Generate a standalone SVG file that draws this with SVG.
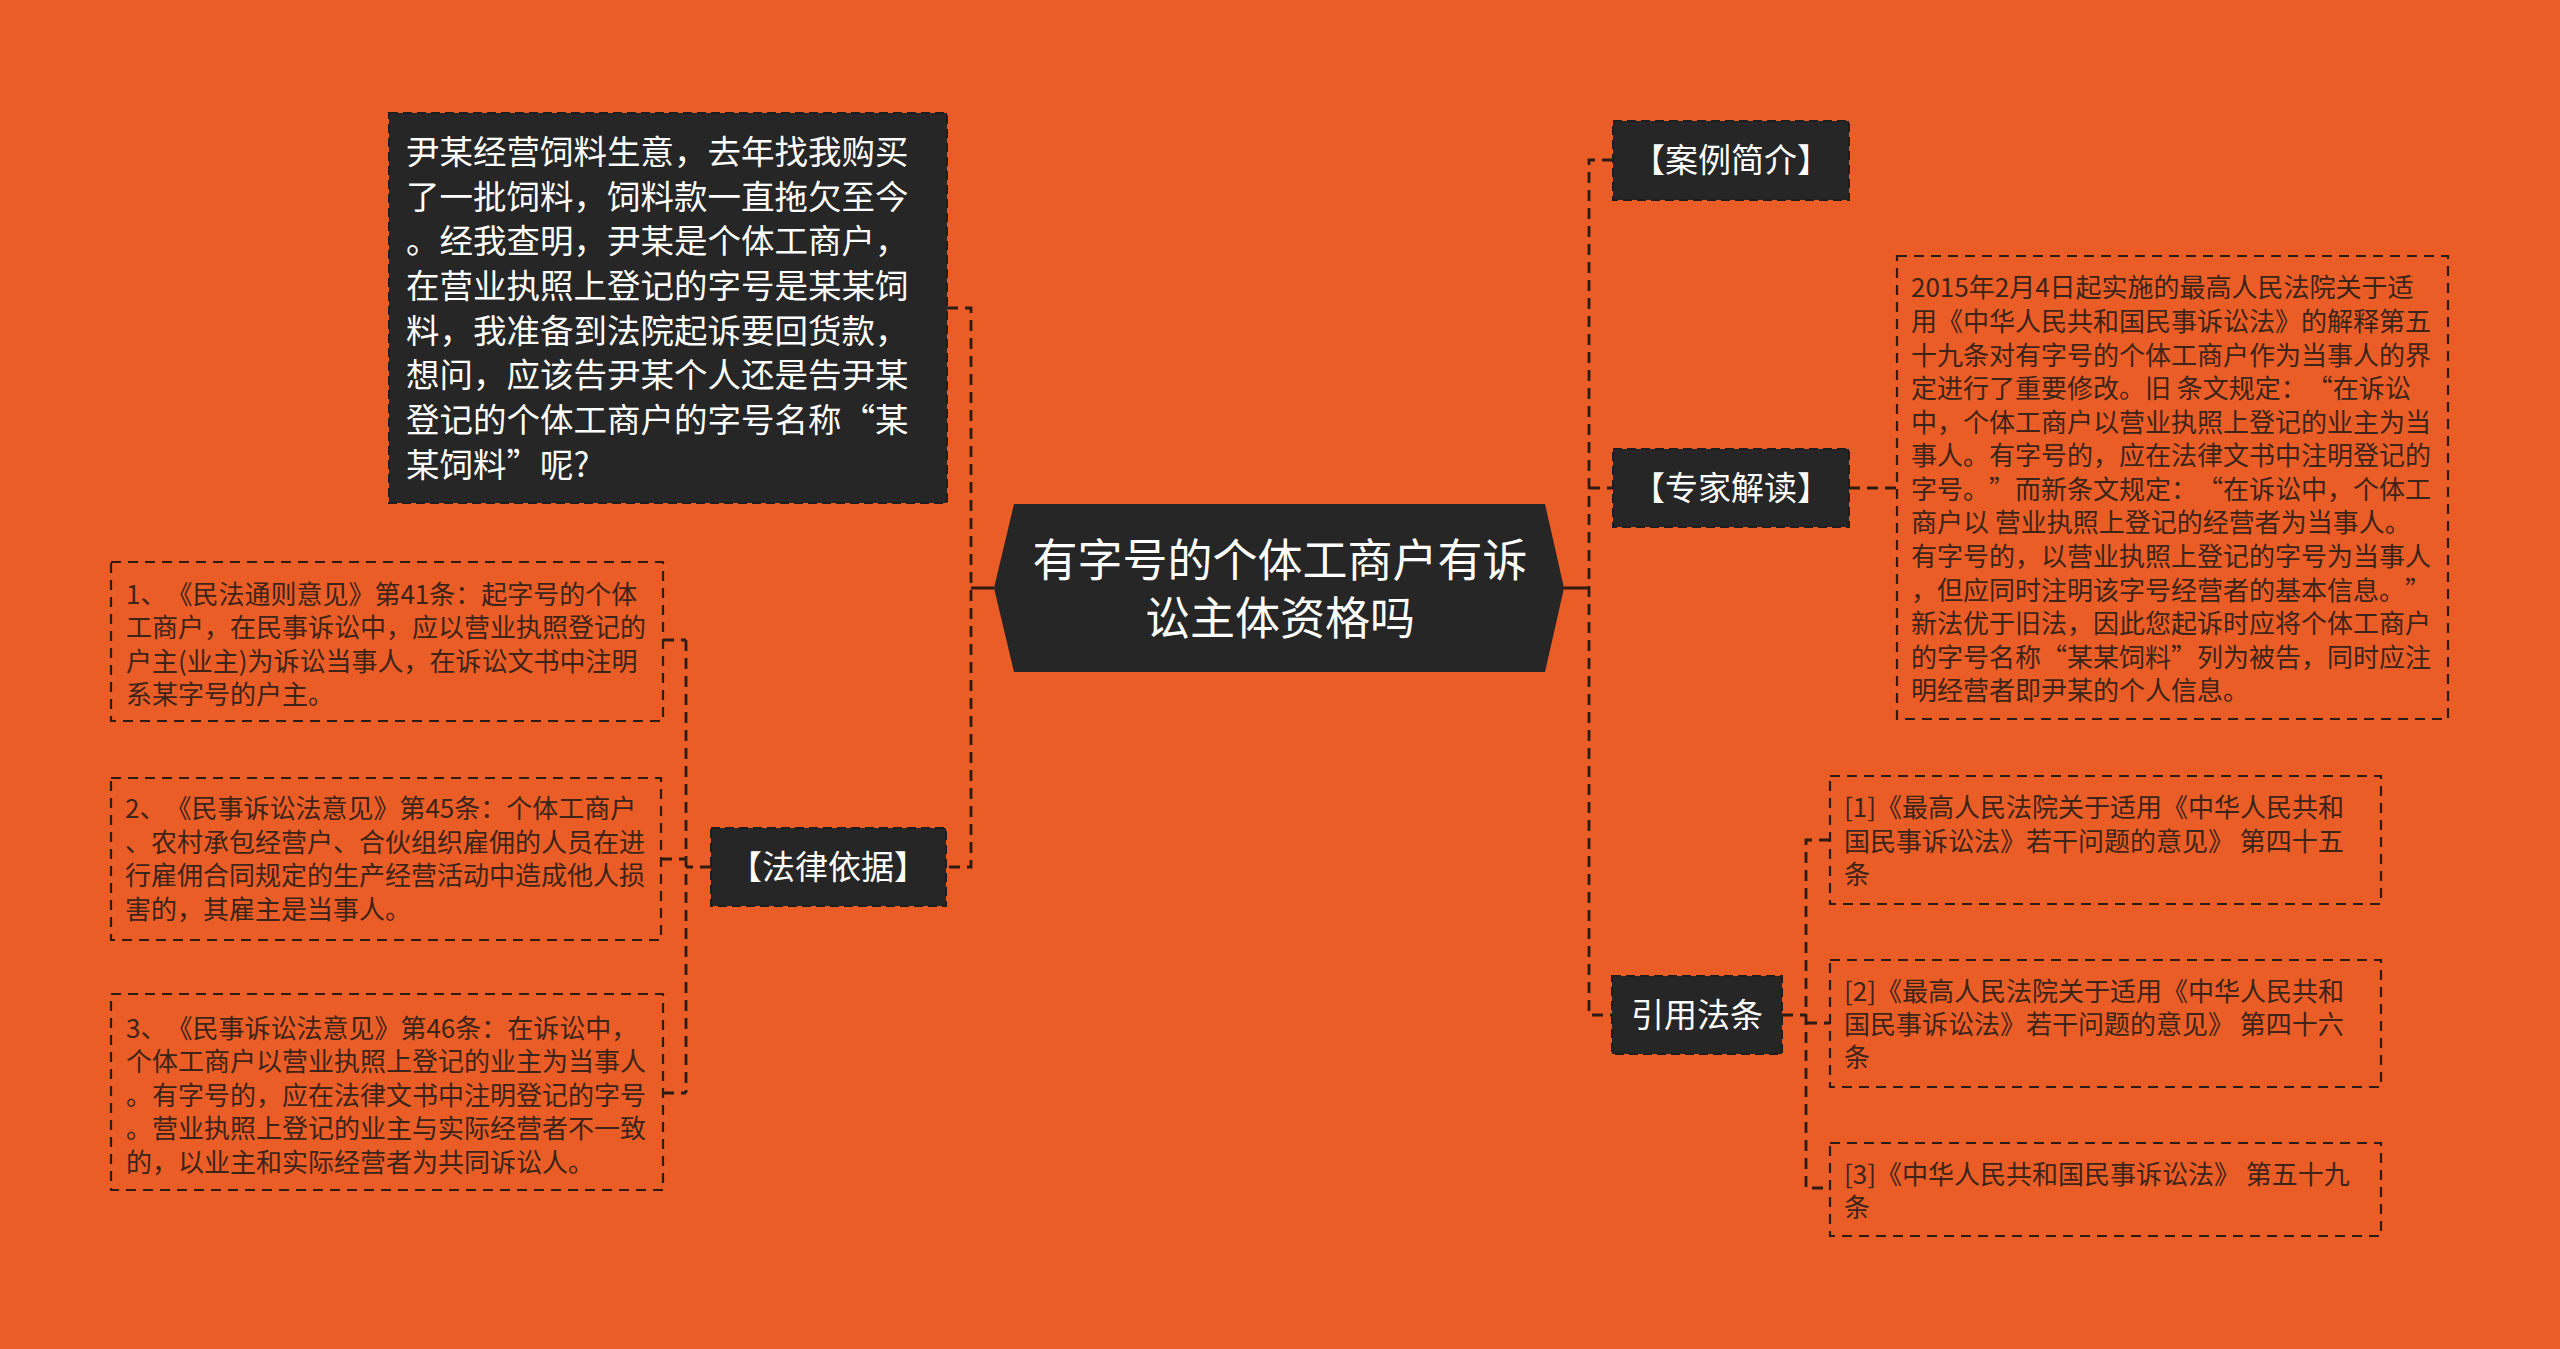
<svg xmlns="http://www.w3.org/2000/svg" width="2560" height="1349" viewBox="0 0 2560 1349">
<style>
.bg{fill:#EA5D27}
.dark{fill:#262626;stroke:#1e1e1e;stroke-width:2;stroke-dasharray:9 5}
.light{fill:none;stroke:#2e1b12;stroke-width:2.2;stroke-dasharray:10 7}
.conn{fill:none;stroke:#2e1b12;stroke-width:2.8;stroke-dasharray:11 7}
.solid{fill:none;stroke:#2e1b12;stroke-width:3}
text{font-family:"Noto Sans CJK SC","Noto Sans",sans-serif;text-spacing-trim:space-all;dominant-baseline:central}
.wt{fill:#ffffff}
.lt{fill:#3d2418;font-size:26px}
.lbl{fill:#ffffff;font-size:33px;text-anchor:middle}
</style>
<rect class="bg" x="0" y="0" width="2560" height="1349"/>
<g id="connectors">
<path class="solid" d="M994,588 H971"/>
<path class="conn" d="M947,308 H971 V867 H946"/>
<path class="conn" d="M711,867 H686"/>
<path class="conn" d="M686,640 V1093"/>
<path class="conn" d="M663,640 H686 M661,859 H686 M663,1093 H686"/>
<path class="solid" d="M1564,588 H1589"/>
<path class="conn" d="M1613,160 H1589 V1015 H1612"/>
<path class="conn" d="M1589,488 H1613"/>
<path class="conn" d="M1849,488 H1897"/>
<path class="conn" d="M1782,1015 H1806"/>
<path class="conn" d="M1830,840 H1806 V1188 H1830"/>
<path class="conn" d="M1806,1023 H1830"/>
</g>
<g id="root">
<polygon points="994,588 1014,504 1545,504 1564,588 1545,672 1014,672" fill="#262626"/>
<text class="wt" x="1280" y="557" font-size="45" text-anchor="middle">有字号的个体工商户有诉</text>
<text class="wt" x="1280" y="615" font-size="45" text-anchor="middle">讼主体资格吗</text>
</g>
<g id="case-question">
<rect class="dark" x="389" y="113" width="558" height="390"/>
<g class="wt" font-size="33.5">
<text x="406" y="149">尹某经营饲料生意，去年找我购买</text>
<text x="406" y="194">了一批饲料，饲料款一直拖欠至今</text>
<text x="406" y="238">。经我查明，尹某是个体工商户，</text>
<text x="406" y="283">在营业执照上登记的字号是某某饲</text>
<text x="406" y="328">料，我准备到法院起诉要回货款，</text>
<text x="406" y="372">想问，应该告尹某个人还是告尹某</text>
<text x="406" y="417">登记的个体工商户的字号名称“某</text>
<text x="406" y="462">某饲料”呢?</text>
</g>
</g>
<g id="law-basis">
<rect class="dark" x="711" y="828" width="235" height="78"/>
<text class="lbl" x="828" y="865">【法律依据】</text>
</g>
<g id="law-1">
<rect class="light" x="111" y="562" width="552" height="159"/>
<text class="lt" x="126" y="592">1、《民法通则意见》第41条：起字号的个体</text>
<text class="lt" x="126" y="625">工商户，在民事诉讼中，应以营业执照登记的</text>
<text class="lt" x="126" y="659">户主(业主)为诉讼当事人，在诉讼文书中注明</text>
<text class="lt" x="126" y="692">系某字号的户主。</text>
</g>
<g id="law-2">
<rect class="light" x="111" y="778" width="550" height="162"/>
<text class="lt" x="125" y="806">2、《民事诉讼法意见》第45条：个体工商户</text>
<text class="lt" x="125" y="840">、农村承包经营户、合伙组织雇佣的人员在进</text>
<text class="lt" x="125" y="873">行雇佣合同规定的生产经营活动中造成他人损</text>
<text class="lt" x="125" y="907">害的，其雇主是当事人。</text>
</g>
<g id="law-3">
<rect class="light" x="111" y="994" width="552" height="196"/>
<text class="lt" x="126" y="1026">3、《民事诉讼法意见》第46条：在诉讼中，</text>
<text class="lt" x="126" y="1059">个体工商户以营业执照上登记的业主为当事人</text>
<text class="lt" x="126" y="1093">。有字号的，应在法律文书中注明登记的字号</text>
<text class="lt" x="126" y="1126">。营业执照上登记的业主与实际经营者不一致</text>
<text class="lt" x="126" y="1160">的，以业主和实际经营者为共同诉讼人。</text>
</g>
<g id="case-intro">
<rect class="dark" x="1613" y="121" width="236" height="79"/>
<text class="lbl" x="1731" y="158">【案例简介】</text>
</g>
<g id="expert">
<rect class="dark" x="1613" y="449" width="236" height="78"/>
<text class="lbl" x="1731" y="486">【专家解读】</text>
</g>
<g id="expert-text">
<rect class="light" x="1897" y="256" width="551" height="463"/>
<text class="lt" x="1911" y="285">2015年2月4日起实施的最高人民法院关于适</text>
<text class="lt" x="1911" y="319">用《中华人民共和国民事诉讼法》的解释第五</text>
<text class="lt" x="1911" y="353">十九条对有字号的个体工商户作为当事人的界</text>
<text class="lt" x="1911" y="386">定进行了重要修改。旧 条文规定：“在诉讼</text>
<text class="lt" x="1911" y="420">中，个体工商户以营业执照上登记的业主为当</text>
<text class="lt" x="1911" y="453">事人。有字号的，应在法律文书中注明登记的</text>
<text class="lt" x="1911" y="487">字号。”而新条文规定：“在诉讼中，个体工</text>
<text class="lt" x="1911" y="520">商户以 营业执照上登记的经营者为当事人。</text>
<text class="lt" x="1911" y="554">有字号的，以营业执照上登记的字号为当事人</text>
<text class="lt" x="1911" y="588">，但应同时注明该字号经营者的基本信息。”</text>
<text class="lt" x="1911" y="621">新法优于旧法，因此您起诉时应将个体工商户</text>
<text class="lt" x="1911" y="655">的字号名称“某某饲料”列为被告，同时应注</text>
<text class="lt" x="1911" y="688">明经营者即尹某的个人信息。</text>
</g>
<g id="cited">
<rect class="dark" x="1612" y="976" width="170" height="78"/>
<text class="lbl" x="1697" y="1013">引用法条</text>
</g>
<g id="cite-1">
<rect class="light" x="1830" y="776" width="551" height="128"/>
<text class="lt" x="1844" y="805">[1]《最高人民法院关于适用《中华人民共和</text>
<text class="lt" x="1844" y="839">国民事诉讼法》若干问题的意见》 第四十五</text>
<text class="lt" x="1844" y="872">条</text>
</g>
<g id="cite-2">
<rect class="light" x="1830" y="960" width="551" height="127"/>
<text class="lt" x="1844" y="989">[2]《最高人民法院关于适用《中华人民共和</text>
<text class="lt" x="1844" y="1022">国民事诉讼法》若干问题的意见》 第四十六</text>
<text class="lt" x="1844" y="1055">条</text>
</g>
<g id="cite-3">
<rect class="light" x="1830" y="1143" width="551" height="93"/>
<text class="lt" x="1844" y="1172">[3]《中华人民共和国民事诉讼法》 第五十九</text>
<text class="lt" x="1844" y="1205">条</text>
</g>
</svg>
